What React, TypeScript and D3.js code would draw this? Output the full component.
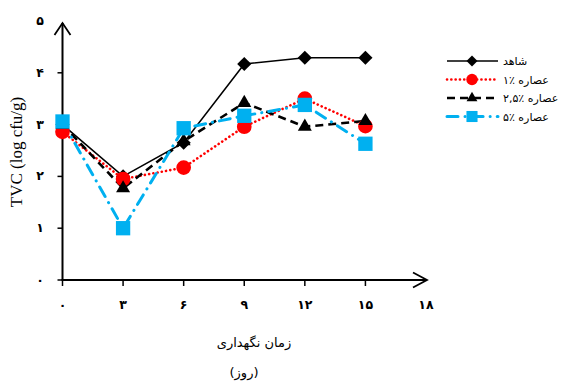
import React, { useRef, useEffect } from "react";
import * as d3 from "d3";

const days = [0, 3, 6, 9, 12, 15];
const control = [3.0, 2.0, 2.65, 4.17, 4.29, 4.29];
const extract1 = [2.86, 1.95, 2.17, 2.96, 3.5, 2.97];
const extract25 = [3.0, 1.77, 2.68, 3.42, 2.96, 3.07];
const extract5 = [3.06, 1.0, 2.93, 3.17, 3.38, 2.63];

const xTicks = [0, 3, 6, 9, 12, 15, 18];
const yTicks = [0, 1, 2, 3, 4, 5];
const seriesNames = ["شاهد", "عصاره ٪۱", "عصاره ٪۲,۵", "عصاره ٪۵"];

const fa = (n: number) => String(n).replace(/\d/g, (d) => "۰۱۲۳۴۵۶۷۸۹"[+d]);

const App = () => {
  const svgRef = useRef<SVGSVGElement>(null);
  const width = 561;
  const height = 383;

  useEffect(() => {
    const svg = d3.select(svgRef.current);
    svg.selectAll("*").remove();

    const x = d3.scaleLinear().domain([0, 18]).range([62.5, 426]);
    const y = d3.scaleLinear().domain([0, 5]).range([280, 21]);

    // diamond is a square turned by 45 degrees
    const series = [
      { name: seriesNames[0], values: control, color: "#000", dash: null, sw: 1.6, shape: d3.symbolSquare, size: 100, rot: 45 },
      { name: seriesNames[1], values: extract1, color: "#ff0000", dash: "0.1,4.2", sw: 2.6, shape: d3.symbolCircle, size: 170, rot: 0, cap: "round" },
      { name: seriesNames[2], values: extract25, color: "#000", dash: "8,5", sw: 2.6, shape: d3.symbolTriangle, size: 85, rot: 0 },
      { name: seriesNames[3], values: extract5, color: "#00b0f0", dash: "11,7,0.1,7", sw: 3, shape: d3.symbolSquare, size: 205, rot: 0, cap: "round" },
    ];

    // axes
    const g = svg.append("g");
    g.append("line").attr("x1", x(0)).attr("x2", x(0)).attr("y1", 280).attr("y2", 23)
      .attr("stroke", "#000").attr("stroke-width", 2);
    g.append("line").attr("x1", x(0) - 1).attr("x2", 427).attr("y1", 280).attr("y2", 280)
      .attr("stroke", "#000").attr("stroke-width", 2);
    g.append("path").attr("d", `M${x(0) - 8},35 L${x(0)},23 L${x(0) + 8},35`)
      .attr("fill", "none").attr("stroke", "#000").attr("stroke-width", 1.8);
    g.append("path").attr("d", "M413,272.5 L427,280 L413,287.5")
      .attr("fill", "none").attr("stroke", "#000").attr("stroke-width", 1.8);

    xTicks.filter((t) => t < 18).forEach((t) => {
      g.append("line").attr("x1", x(t)).attr("x2", x(t)).attr("y1", 280).attr("y2", 286)
        .attr("stroke", "#000").attr("stroke-width", 1.5);
    });
    yTicks.filter((t) => t < 5).forEach((t) => {
      g.append("line").attr("x1", x(0) - 5).attr("x2", x(0)).attr("y1", y(t)).attr("y2", y(t))
        .attr("stroke", "#000").attr("stroke-width", 1.5);
    });

    g.selectAll(".xt").data(xTicks).enter().append("text")
      .attr("x", (d) => x(d)).attr("y", 309).attr("text-anchor", "middle")
      .attr("font-family", "DejaVu Sans").attr("font-weight", "bold").attr("font-size", 12.5)
      .text((d) => fa(d));
    g.selectAll(".yt").data(yTicks).enter().append("text")
      .attr("x", 40).attr("y", (d) => y(d) + 4).attr("text-anchor", "middle")
      .attr("font-family", "DejaVu Sans").attr("font-weight", "bold").attr("font-size", 12.5)
      .text((d) => fa(d));

    g.append("text").attr("transform", "translate(22,152) rotate(-90)")
      .attr("text-anchor", "middle").attr("font-family", "Liberation Serif")
      .attr("font-size", 17).text("TVC (log cfu/g)");

    g.append("text").attr("x", 254).attr("y", 347).attr("text-anchor", "middle")
      .attr("font-family", "DejaVu Sans").attr("font-size", 13).text("زمان نگهداری");
    g.append("text").attr("x", 244).attr("y", 377).attr("text-anchor", "middle")
      .attr("font-family", "DejaVu Sans").attr("font-size", 13).text("(روز)");

    // lines
    const line = d3.line<number>().x((_, i) => x(days[i])).y((d) => y(d));
    series.forEach((s) => {
      svg.append("path").datum(s.values).attr("d", line).attr("fill", "none")
        .attr("stroke", s.color).attr("stroke-width", s.sw)
        .attr("stroke-dasharray", s.dash).attr("stroke-linecap", s.cap || "butt");
    });
    series.forEach((s) => {
      const sym = d3.symbol().type(s.shape).size(s.size);
      svg.append("g").selectAll("path").data(s.values).enter().append("path")
        .attr("d", sym)
        .attr("transform", (d, i) => `translate(${x(days[i])},${y(d)}) rotate(${s.rot})`)
        .attr("fill", s.color);
    });

    // legend
    const lg = svg.append("g");
    series.forEach((s, i) => {
      const ly = 61 + i * 18.5;
      lg.append("line").attr("x1", 447).attr("x2", 498).attr("y1", ly).attr("y2", ly)
        .attr("stroke", s.color).attr("stroke-width", s.sw)
        .attr("stroke-dasharray", s.dash).attr("stroke-linecap", s.cap || "butt");
      const sym = d3.symbol().type(s.shape).size(s.size * 0.6);
      lg.append("path").attr("d", sym)
        .attr("transform", `translate(472,${ly}) rotate(${s.rot})`)
        .attr("fill", s.color);
      lg.append("text").attr("x", 503).attr("y", ly + 4)
        .attr("direction", "rtl").attr("text-anchor", "end")
        .attr("font-family", "DejaVu Sans").attr("font-size", 11).text(s.name);
    });
  }, []);

  return (
    <div>
      <svg ref={svgRef} width={width} height={height}
        style={{ position: "absolute", left: 0, top: 0, background: "#fff" }} />
    </div>
  );
};

export default App;
